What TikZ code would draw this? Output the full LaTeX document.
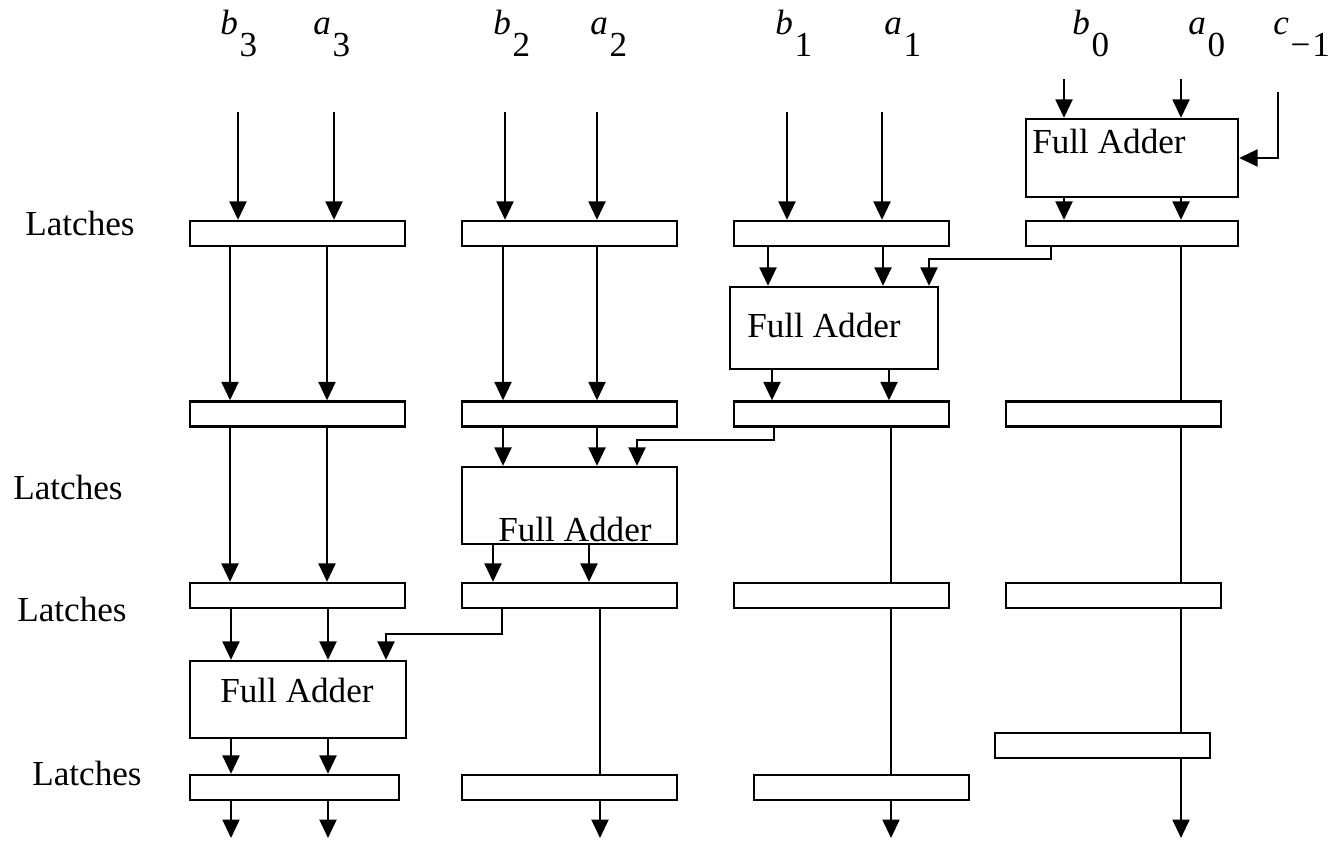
\documentclass[tikz,border=0pt]{standalone}
\usepackage{fontspec}
\setmainfont{Liberation Serif}
\usetikzlibrary{arrows.meta}
\newcommand{\bitlbl}[2]{\textit{#1}\kern1pt\raisebox{-12.5pt}{#2}}
\tikzset{
  latch/.style={draw,line width=1.3pt,minimum width=4.3cm,minimum height=0.5cm,inner sep=0pt},
  adder/.style={draw,line width=1.3pt,inner sep=0pt},
  wire/.style={line width=1.3pt},
  flow/.style={wire,-{Triangle[length=0.37cm,width=0.34cm]}},
  txt/.style={font=\fontsize{20}{24}\selectfont,inner sep=0pt,anchor=base west}
}
\begin{document}
\begin{tikzpicture}
\useasboundingbox (0,0) rectangle (26.70,-16.84);
% Operand bits
\node[txt] (lb3) at (4.40,-0.70) {\bitlbl{b}{3}};
\node[txt] (la3) at (6.26,-0.70) {\bitlbl{a}{3}};
\node[txt] (lb2) at (9.86,-0.70) {\bitlbl{b}{2}};
\node[txt] (la2) at (11.80,-0.70) {\bitlbl{a}{2}};
\node[txt] (lb1) at (15.50,-0.70) {\bitlbl{b}{1}};
\node[txt] (la1) at (17.68,-0.70) {\bitlbl{a}{1}};
\node[txt] (lb0) at (21.44,-0.70) {\bitlbl{b}{0}};
\node[txt] (la0) at (23.76,-0.70) {\bitlbl{a}{0}};
\node[txt] (lc) at (25.46,-0.70) {\bitlbl{c}{−\kern1pt1}};
% Stage names on the left
\node[txt] (st1) at (0.50,-4.72) {Latches};
\node[txt] (st2) at (0.26,-10.00) {Latches};
\node[txt] (st3) at (0.34,-12.42) {Latches};
\node[txt] (st4) at (0.64,-15.70) {Latches};
% Latch rows, bit 3 on the left
\node[latch] (L31) at (5.95,-4.67) {};
\node[latch] (L32) at (5.95,-8.28) {};
\node[latch] (L33) at (5.95,-11.91) {};
\node[latch,minimum width=4.18cm] (L34) at (5.89,-15.75) {};
\node[latch] (L21) at (11.39,-4.67) {};
\node[latch] (L22) at (11.39,-8.28) {};
\node[latch] (L23) at (11.39,-11.91) {};
\node[latch] (L24) at (11.39,-15.75) {};
\node[latch] (L11) at (16.83,-4.67) {};
\node[latch] (L12) at (16.83,-8.28) {};
\node[latch] (L13) at (16.83,-11.91) {};
\node[latch] (L14) at (17.23,-15.75) {};
\node[latch,minimum width=4.24cm] (L01) at (22.64,-4.67) {};
\node[latch] (L02) at (22.27,-8.28) {};
\node[latch] (L03) at (22.27,-11.91) {};
\node[latch] (L04) at (22.05,-14.91) {};
% Full adders, one per stage
\node[adder,minimum width=4.24cm,minimum height=1.56cm] (FA0) at (22.64,-3.16) {};
\node[adder,minimum width=4.16cm,minimum height=1.64cm] (FA1) at (16.68,-6.56) {};
\node[adder,minimum width=4.30cm,minimum height=1.54cm] (FA2) at (11.39,-10.11) {};
\node[adder,minimum width=4.32cm,minimum height=1.54cm] (FA3) at (5.96,-13.99) {};
\node[txt] (fa0) at (20.64,-3.08) {Full Adder};
\node[txt] (fa1) at (14.94,-6.76) {Full Adder};
\node[txt] (fa2) at (9.96,-10.82) {Full Adder};
\node[txt] (fa3) at (4.40,-14.04) {Full Adder};
% Inputs
\coordinate (ib3) at (4.76,-2.24);   \coordinate (ia3) at (6.68,-2.24);
\coordinate (ib2) at (10.10,-2.24);  \coordinate (ia2) at (11.94,-2.24);
\coordinate (ib1) at (15.74,-2.24);  \coordinate (ia1) at (17.64,-2.24);
\coordinate (ib0) at (21.28,-1.58);  \coordinate (ia0) at (23.62,-1.58);
\coordinate (cin) at (25.56,-1.84);
\foreach \p/\q in {ib3/L31,ia3/L31,ib2/L21,ia2/L21,ib1/L11,ia1/L11,ib0/FA0,ia0/FA0}
  \draw[flow] (\p) -- (\p |- \q.north);
\draw[flow] (cin) |- (FA0.east);
\foreach \x in {21.28,23.62} \draw[flow] (\x,0 |- FA0.south) -- (\x,0 |- L01.north);
% Bit 3 column
\foreach \x in {4.60,6.54} {
  \draw[flow] (\x,0 |- L31.south) -- (\x,0 |- L32.north);
  \draw[flow] (\x,0 |- L32.south) -- (\x,0 |- L33.north);
}
\foreach \x in {4.62,6.56} {
  \draw[flow] (\x,0 |- L33.south) -- (\x,0 |- FA3.north);
  \draw[flow] (\x,0 |- FA3.south) -- (\x,0 |- L34.north);
}
% Bit 2 column
\foreach \x in {10.06,11.94} {
  \draw[flow] (\x,0 |- L21.south) -- (\x,0 |- L22.north);
  \draw[flow] (\x,0 |- L22.south) -- (\x,0 |- FA2.north);
}
\foreach \x in {9.86,11.78} \draw[flow] (\x,0 |- FA2.south) -- (\x,0 |- L23.north);
\draw[wire] (12.00,0 |- L23.south) -- (12.00,0 |- L24.north);
% Bit 1 column
\foreach \x in {15.36,17.66} \draw[flow] (\x,0 |- L11.south) -- (\x,0 |- FA1.north);
\foreach \x in {15.44,17.78} \draw[flow] (\x,0 |- FA1.south) -- (\x,0 |- L12.north);
\draw[wire] (17.82,0 |- L12.south) -- (17.82,0 |- L13.north);
\draw[wire] (17.82,0 |- L13.south) -- (17.82,0 |- L14.north);
% Bit 0 column
\draw[wire] (23.62,0 |- L01.south) -- (23.62,0 |- L02.north);
\draw[wire] (23.62,0 |- L02.south) -- (23.62,0 |- L03.north);
\draw[wire] (23.62,0 |- L03.south) -- (23.62,0 |- L04.north);
% Carries between stages
\coordinate (k0) at (18.58,-5.18);
\coordinate (k1) at (12.74,-8.80);
\coordinate (k2) at (7.72,-12.68);
\draw[flow] (21.02,0 |- L01.south) |- (k0) -- (k0 |- FA1.north);
\draw[flow] (15.48,0 |- L12.south) |- (k1) -- (k1 |- FA2.north);
\draw[flow] (10.04,0 |- L23.south) |- (k2) -- (k2 |- FA3.north);
% Sum outputs
\coordinate (o3b) at (4.62,-16.76);  \coordinate (o3a) at (6.56,-16.76);
\coordinate (o2) at (12.00,-16.76);  \coordinate (o1) at (17.82,-16.76);
\coordinate (o0) at (23.62,-16.76);
\foreach \p/\q in {o3b/L34,o3a/L34,o2/L24,o1/L14,o0/L04}
  \draw[flow] (\p |- \q.south) -- (\p);
\end{tikzpicture}
\end{document}
